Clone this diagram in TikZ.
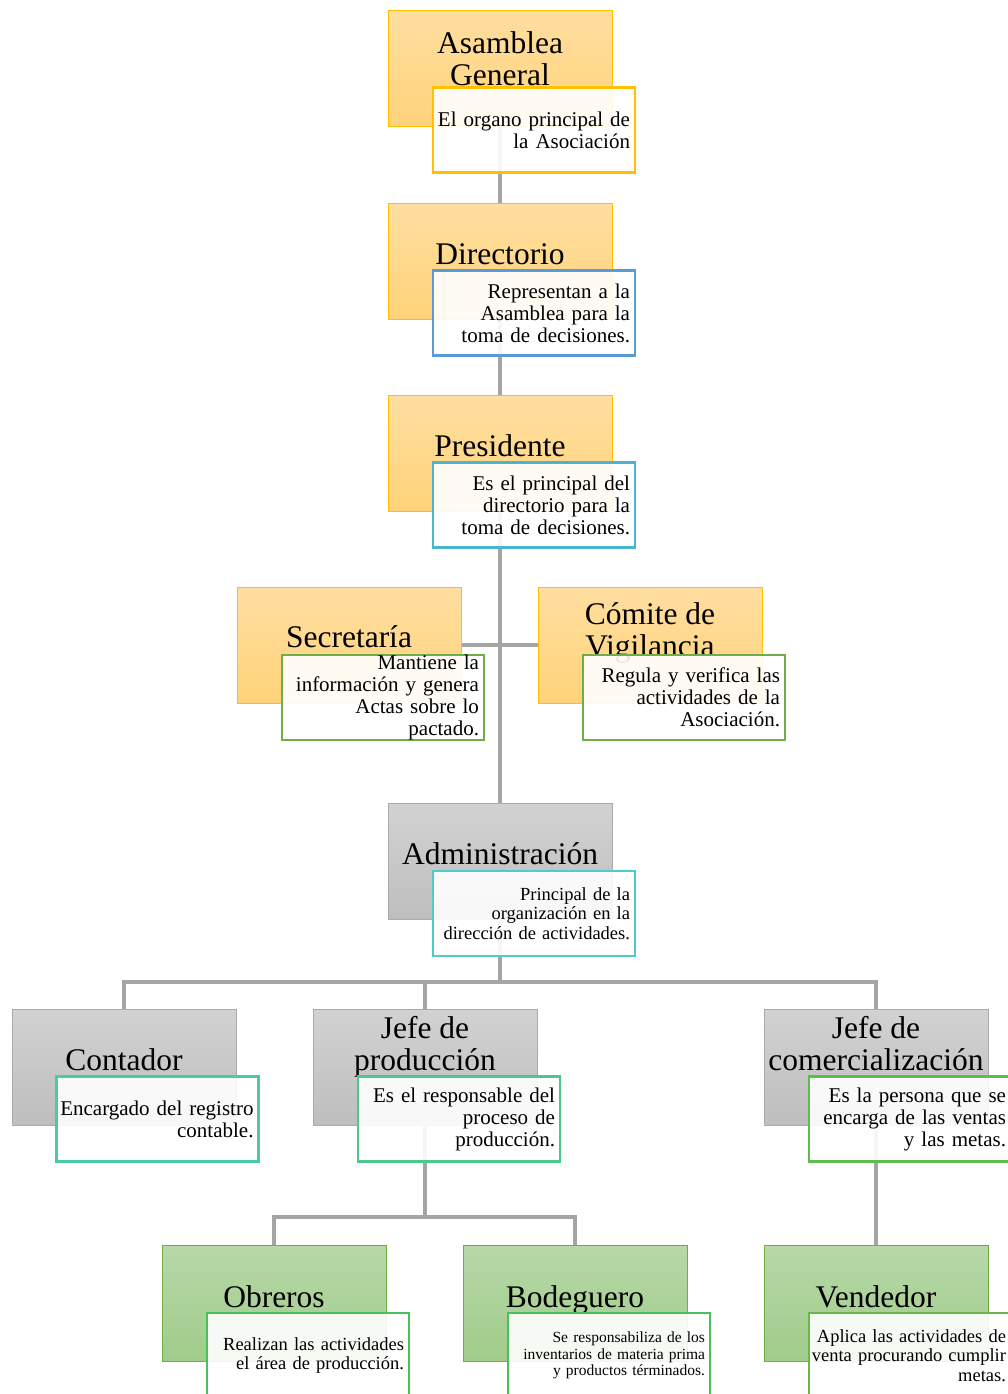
\documentclass[tikz,border=0pt]{standalone}
\usepackage{fontspec}
\setmainfont{Liberation Serif}
\usetikzlibrary{backgrounds}
\definecolor{orTop}{RGB}{255,222,160}
\definecolor{orBot}{RGB}{255,211,122}
\definecolor{orLine}{RGB}{255,192,0}
\definecolor{grTop}{RGB}{210,210,210}
\definecolor{grBot}{RGB}{190,190,190}
\definecolor{grLine}{RGB}{170,170,170}
\definecolor{gnTop}{RGB}{183,216,168}
\definecolor{gnBot}{RGB}{160,204,138}
\definecolor{gnLine}{RGB}{112,173,71}
\definecolor{conn}{RGB}{165,165,165}
\definecolor{dAsam}{RGB}{255,192,0}
\definecolor{dDir}{RGB}{91,155,213}
\definecolor{dPres}{RGB}{75,180,208}
\definecolor{dSec}{RGB}{112,173,71}
\definecolor{dAdm}{RGB}{77,204,204}
\definecolor{dCont}{RGB}{76,201,168}
\definecolor{dProd}{RGB}{76,200,142}
\definecolor{dCom}{RGB}{94,187,78}
\definecolor{dObr}{RGB}{76,191,92}
\definecolor{dVen}{RGB}{107,181,75}
% one right-aligned line that never wraps
\newcommand\rl[1]{\leavevmode\llap{#1}}
\begin{document}
\begin{tikzpicture}[x=1pt,y=-1pt,
  box/.style={draw, line width=1pt, minimum width=224pt, minimum height=116pt, inner sep=0pt},
  orbox/.style={box, draw=orLine, top color=orTop, bottom color=orBot},
  grbox/.style={box, draw=grLine, top color=grTop, bottom color=grBot},
  gnbox/.style={box, draw=gnLine, top color=gnTop, bottom color=gnBot},
  title/.style={font=\fontsize{31.5}{32}\selectfont, align=center, anchor=base, inner sep=0pt},
  desc/.style={draw, line width=2.5pt, fill=white, fill opacity=0.9, text opacity=1,
    minimum width=202pt, minimum height=85pt, inner xsep=5pt, inner ysep=0pt,
    text width=192pt, align=right, font=\fontsize{21}{22}\selectfont},
  small/.style={font=\fontsize{18.5}{19.5}\selectfont},
  tiny/.style={font=\fontsize{15.5}{16.5}\selectfont},
  link/.style={draw=conn, line width=4pt}]
\useasboundingbox (0,0) rectangle (1008,1394);
\clip (0,0) rectangle (1008,1394);

% main boxes
\node[orbox] (asam) at (500,68.5) {};
\node[orbox] (dir) at (500,261) {};
\node[orbox] (pres) at (500,453) {};
\node[orbox] (secr) at (349,645) {};
\node[orbox] (comi) at (650,645) {};
\node[grbox] (adm) at (500,861) {};
\node[grbox] (cont) at (124,1067) {};
\node[grbox] (jprod) at (425,1067) {};
\node[grbox] (jcom) at (876,1067) {};
\node[gnbox] (obr) at (274,1303) {};
\node[gnbox] (bod) at (575,1303) {};
\node[gnbox] (vend) at (876,1303) {};

% titles (base = last line)
\node[title] (asamT) at (500,86) {Asamblea\\General};
\node[title] (dirT) at (500,264) {Directorio};
\node[title] (presT) at (500,456) {Presidente};
\node[title] (secrT) at (349,647) {Secretaría};
\node[title] (comiT) at (650,656) {Cómite de\\Vigilancia};
\node[title] (admT) at (500,864) {Administración};
\node[title] (contT) at (124,1070) {Contador};
\node[title] (jprodT) at (425,1070) {Jefe de\\producción};
\node[title] (jcomT) at (876,1070) {Jefe de\\comercialización};
\node[title] (obrT) at (274,1307) {Obreros};
\node[title] (bodT) at (575,1307) {Bodeguero};
\node[title] (vendT) at (876,1307) {Vendedor};

% description boxes
\node[desc, draw=dAsam] (asamD) at (534,130) {\rl{El organo principal de}\\\rl{la Asociación}};
\node[desc, draw=dDir] (dirD) at (534,313) {\rl{Representan a la}\\\rl{Asamblea para la}\\\rl{toma de decisiones.}};
\node[desc, draw=dPres] (presD) at (534,505) {\rl{Es el principal del}\\\rl{directorio para la}\\\rl{toma de decisiones.}};
\node[desc, draw=dSec] (secrD) at (383,697.5) {\rl{Mantiene la}\\\rl{información y genera}\\\rl{Actas sobre lo}\\\rl{pactado.}};
\node[desc, draw=dSec] (comiD) at (684,697.5) {\rl{Regula y verifica las}\\\rl{actividades de la}\\\rl{Asociación.}};
\node[desc, small, draw=dAdm] (admD) at (534,913.5) {\rl{Principal de la}\\\rl{organización en la}\\\rl{dirección de actividades.}};
\node[desc, draw=dCont] (contD) at (157.5,1119) {\rl{Encargado del registro}\\\rl{contable.}};
\node[desc, draw=dProd] (jprodD) at (459,1119) {\rl{Es el responsable del}\\\rl{proceso de}\\\rl{producción.}};
\node[desc, draw=dCom] (jcomD) at (910,1119) {\rl{Es la persona que se}\\\rl{encarga de las ventas}\\\rl{y las metas.}};
\node[desc, small, draw=dObr] (obrD) at (308,1355.5) {\rl{Realizan las actividades}\\\rl{el área de producción.}};
\node[desc, tiny, draw=dObr] (bodD) at (609,1355.5) {\rl{Se responsabiliza de los}\\\rl{inventarios de materia prima}\\\rl{y productos términados.}};
\node[desc, small, draw=dVen] (vendD) at (910,1355.5) {\rl{Aplica las actividades de}\\\rl{venta procurando cumplir}\\\rl{metas.}};

% connectors behind the boxes
\begin{pgfonlayer}{background}
\coordinate (busA) at (500,982);
\coordinate (busP) at (425,1217);
\path[link] (asam.south) -- (adm.north);
\path[link] (secr.east) -- (comi.west);
\path[link] (adm.south) -- (busA);
\path[link] (cont.north) |- (busA) -| (jcom.north);
\path[link] (busA) -| (jprod.north);
\path[link] (jprod.south) -- (busP);
\path[link] (obr.north) |- (busP) -| (bod.north);
\path[link] (jcom.south) -- (vend.north);
\end{pgfonlayer}
\end{tikzpicture}
\end{document}
